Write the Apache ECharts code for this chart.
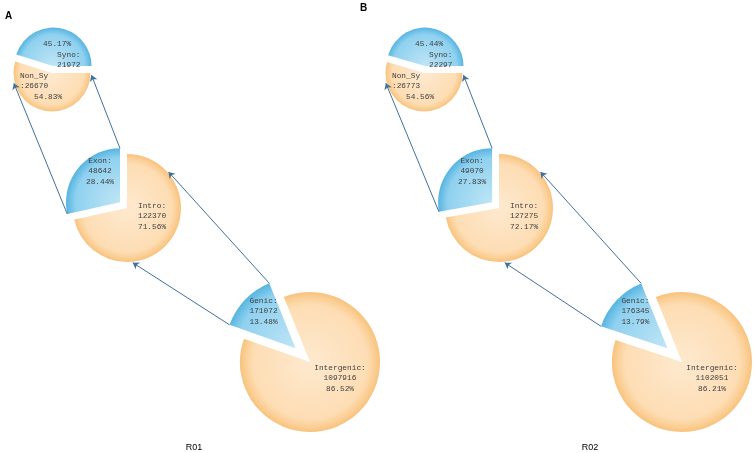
<!DOCTYPE html>
<html><head><meta charset="utf-8">
<script src="https://cdn.jsdelivr.net/npm/echarts@6/dist/echarts.min.js"></script>
<style>html,body{margin:0;padding:0;background:#fff}#c{width:754px;height:453px}</style>
</head><body><div id="c"></div>
<script>
// ---------------- data ----------------
const panelLabels = ['A', 'B'];
const sampleNames = ['R01', 'R02'];

const level1Names = ['Genic', 'Intergenic'];
const genicValues = [171072, 176345];
const intergenicValues = [1097916, 1102051];
const genicPct = [13.48, 13.79];
const intergenicPct = [86.52, 86.21];

const level2Names = ['Exon', 'Intro'];
const exonValues = [48642, 49070];
const introValues = [122370, 127275];
const exonPct = [28.44, 27.83];
const introPct = [71.56, 72.17];

const level3Names = ['Syno', 'Non_Sy'];
const synoValues = [21972, 22297];
const nonSyValues = [26670, 26773];
const synoPct = [45.17, 45.44];
const nonSyPct = [54.83, 54.56];

// ---------------- layout ----------------
const PANEL_DX = 372;
const LEVELS = [
  { cx: 310, cy: 362, r: 70, explode: 20, blueEnd: 112,
    orangeLabel: { dx: 30, dy: 16, align: 'center' },
    blueLabel: { dx: -32, dy: -37, align: 'center' },
    targets: null },
  { cx: 127, cy: 208, r: 54, explode: 9, blueEnd: 90,
    orangeLabel: { dx: 11, dy: 8, align: 'left' },
    blueLabel: { dx: -20, dy: -31, align: 'center' },
    targets: [41, 276] },
  { cx: 52, cy: 73, r: 38.5, explode: 7, blueEnd: 0,
    orangeLabel: { dx: -32, dy: 13, align: 'left' },
    blueLabel: { dx: -10, dy: -11.5, align: 'left' },
    targets: [-3, 195] }
];
const ORANGE_STOPS = [[0, '#FEE9CF'], [0.82, '#FDDDB4'], [0.93, '#FBCE93'], [1, '#F8C27E']];
const BLUE_STOPS = [[0, '#BFE5F6'], [0.82, '#8FD1EF'], [0.93, '#6DC0E7'], [1, '#56B4E0']];
const LABEL_FONT = { fontFamily: 'Liberation Mono', fontSize: 7.8, lineHeight: 10.5, color: '#404040' };
const ARROW_COLOR = '#41719C';

function levelData(lv, p) {
  if (lv === 0) return { bn: level1Names[0], bv: genicValues[p], bp: genicPct[p], on: level1Names[1], ov: intergenicValues[p], op: intergenicPct[p] };
  if (lv === 1) return { bn: level2Names[0], bv: exonValues[p], bp: exonPct[p], on: level2Names[1], ov: introValues[p], op: introPct[p] };
  return { bn: level3Names[0], bv: synoValues[p], bp: synoPct[p], on: level3Names[1], ov: nonSyValues[p], op: nonSyPct[p] };
}
function labelText(lv, which, d) {
  const pct = v => v.toFixed(2) + '%';
  if (lv === 2) {
    if (which === 'blue') return pct(d.bp) + '\n   ' + d.bn + ':\n   ' + d.bv;
    return d.on + '\n:' + d.ov + '\n   ' + pct(d.op);
  }
  if (which === 'blue') return d.bn + ':\n' + d.bv + '\n' + pct(d.bp);
  return d.on + ':\n' + d.ov + '\n' + pct(d.op);
}
function grad(cx, cy, r, stops) {
  return { type: 'radial', x: cx, y: cy, r: r, global: true,
    colorStops: stops.map(s => ({ offset: s[0], color: s[1] })) };
}
function polar(cx, cy, r, deg) {
  const a = deg * Math.PI / 180;
  return [cx + r * Math.cos(a), cy - r * Math.sin(a)];
}

const series = [];
const arrows = [];
const geo = [];

for (let p = 0; p < 2; p++) {
  geo[p] = [];
  for (let lv = 0; lv < 3; lv++) {
    const L = LEVELS[lv];
    const d = levelData(lv, p);
    const cx = L.cx + p * PANEL_DX, cy = L.cy;
    const share = d.bv / (d.bv + d.ov);
    const blueStart = L.blueEnd + share * 360;
    const mid = L.blueEnd + share * 180;
    const ex = polar(cx, cy, L.explode, mid);
    geo[p][lv] = { cx, cy, r: L.r, ex, blueStart, blueEnd: L.blueEnd };
    const common = {
      type: 'pie', radius: [0, L.r], startAngle: blueStart, clockwise: true,
      silent: true, animation: false, avoidLabelOverlap: false,
      label: Object.assign({ show: true, position: 'inside' }, LABEL_FONT),
      labelLine: { show: false }, emphasis: { disabled: true }
    };
    const transparent = { color: 'rgba(0,0,0,0)' };
    const oL = L.orangeLabel;
    series.push(Object.assign({}, common, {
      center: [cx, cy],
      data: [
        { name: d.bn, value: d.bv, itemStyle: transparent, label: { show: false } },
        { name: d.on, value: d.ov, itemStyle: { color: grad(cx, cy, L.r, ORANGE_STOPS) },
          label: { formatter: labelText(lv, 'orange', d) } }
      ],
      labelLayout: () => ({ x: cx + oL.dx, y: cy + oL.dy, align: oL.align, verticalAlign: 'middle' })
    }));
    const bL = L.blueLabel;
    series.push(Object.assign({}, common, {
      center: [ex[0], ex[1]],
      data: [
        { name: d.bn, value: d.bv, itemStyle: { color: grad(ex[0], ex[1], L.r, BLUE_STOPS) },
          label: { formatter: labelText(lv, 'blue', d) } },
        { name: d.on, value: d.ov, itemStyle: transparent, label: { show: false } }
      ],
      labelLayout: () => ({ x: ex[0] + bL.dx, y: ex[1] + bL.dy, align: bL.align, verticalAlign: 'middle' })
    }));
  }
  for (let lv = 0; lv < 2; lv++) {
    const g = geo[p][lv], n = geo[p][lv + 1], t = LEVELS[lv + 1].targets;
    const a1 = polar(g.ex[0], g.ex[1], g.r, g.blueEnd);
    const a2 = polar(g.ex[0], g.ex[1], g.r, g.blueStart);
    const b1 = polar(n.cx, n.cy, n.r + 1, t[0]);
    const b2 = polar(n.cx, n.cy, n.r + 1, t[1]);
    arrows.push({ coords: [a1, b1] }, { coords: [a2, b2] });
  }
}

series.push({
  type: 'lines', coordinateSystem: 'cartesian2d', silent: true, animation: false,
  symbol: ['none', 'arrow'], symbolSize: 6,
  lineStyle: { color: ARROW_COLOR, width: 1, opacity: 1, curveness: 0 },
  data: arrows, z: 5
});

const graphics = [];
for (let p = 0; p < 2; p++) {
  graphics.push({ type: 'text', x: p === 0 ? 5 : 360, y: p === 0 ? 11 : 3,
    style: { text: panelLabels[p], font: 'bold 10px "Liberation Sans"', fill: '#000' } });
  graphics.push({ type: 'text', x: p === 0 ? 194 : 590, y: 448,
    style: { text: sampleNames[p], font: '9px "Liberation Sans"', fill: '#000', align: 'center', verticalAlign: 'middle' } });
}

const chart = echarts.init(document.getElementById('c'));
chart.setOption({
  backgroundColor: '#fff',
  animation: false,
  grid: { left: 0, right: 0, top: 0, bottom: 0, show: false },
  xAxis: { type: 'value', min: 0, max: 754, show: false },
  yAxis: { type: 'value', min: 0, max: 453, inverse: true, show: false },
  series: series,
  graphic: graphics
});
</script></body></html>
